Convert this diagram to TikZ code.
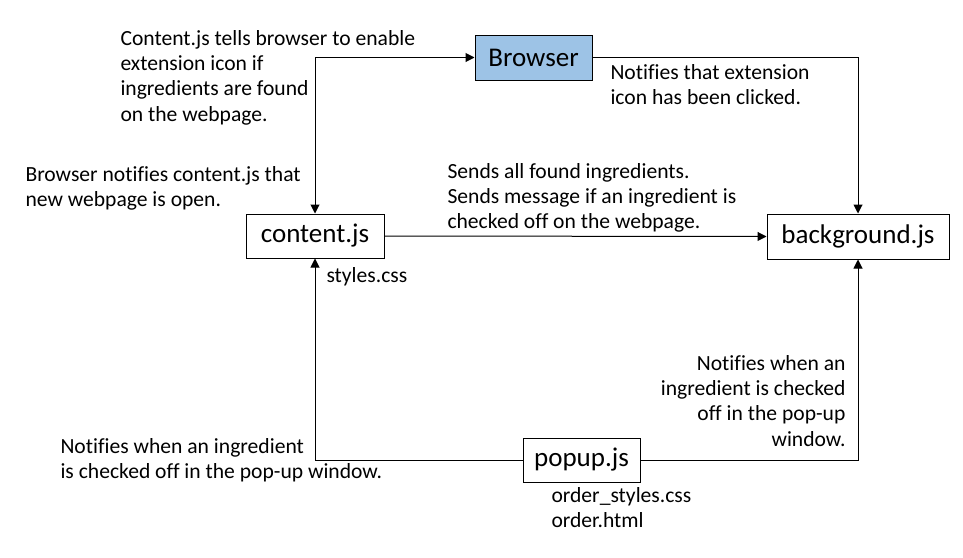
\documentclass[tikz,border=0pt]{standalone}
\usepackage{fontspec}
\setmainfont{Carlito}[Ligatures=NoCommon]
\usetikzlibrary{arrows.meta,positioning}
\definecolor{lightblue}{HTML}{9DC3E6}
\tikzstyle{module}=[draw, line width=1pt, fill=white, align=center, inner sep=0pt, font=\fontsize{27}{32}\selectfont]
\tikzstyle{note}=[inner sep=0pt, align=left, anchor=north west, font=\fontsize{21.6}{25.2}\selectfont]

\begin{document}
\begin{tikzpicture}[x=1pt,y=-1pt,>={Triangle[length=9pt,width=9pt]},line width=1pt]
        \useasboundingbox (0,0) rectangle (963,557);
        % the four scripts
        \node [module, fill=lightblue, minimum width=117pt, minimum height=45pt] (browser) at (533.5,57.5) {Browser};
        \node [module, minimum width=138pt, minimum height=44pt] (content) at (315,236) {content.js};
        \node [module, minimum width=182pt, minimum height=45pt] (background) at (858,236.5) {background.js};
        \node [module, minimum width=117pt, minimum height=44pt] (popup) at (581.5,460) {popup.js};
        % messages
        \draw[<->] (content.north) |- (browser.west);
        \draw[->] (browser.east) -| (background.north);
        \draw[->] (content.east) -- (background.west);
        \draw[->] (popup.west) -| (content.south);
        \draw[->] (popup.east) -| (background.south);
        % notes
        \node [note] (enable) at (120,30) {Content.js tells browser to enable\\extension icon if\\ingredients are found\\on the webpage.};
        \node [note] (open) at (25,166) {Browser notifies content.js that\\new webpage is open.};
        \node [note] (clicked) at (610,64) {Notifies that extension\\icon has been clicked.};
        \node [note] (sends) at (447,163) {Sends all found ingredients.\\Sends message if an ingredient is\\checked off on the webpage.};
        \node [note] (styles) at (326,267) {styles.css};
        \node [note, align=right, anchor=north east] (popnote) at (846,355) {Notifies when an\\ingredient is checked\\off in the pop-up\\window.};
        \node [note] (checked) at (60,438) {Notifies when an ingredient\\is checked off in the pop-up window.};
        \node [note] (order) at (551,487) {order\_styles.css\\order.html};
\end{tikzpicture}
\end{document}
